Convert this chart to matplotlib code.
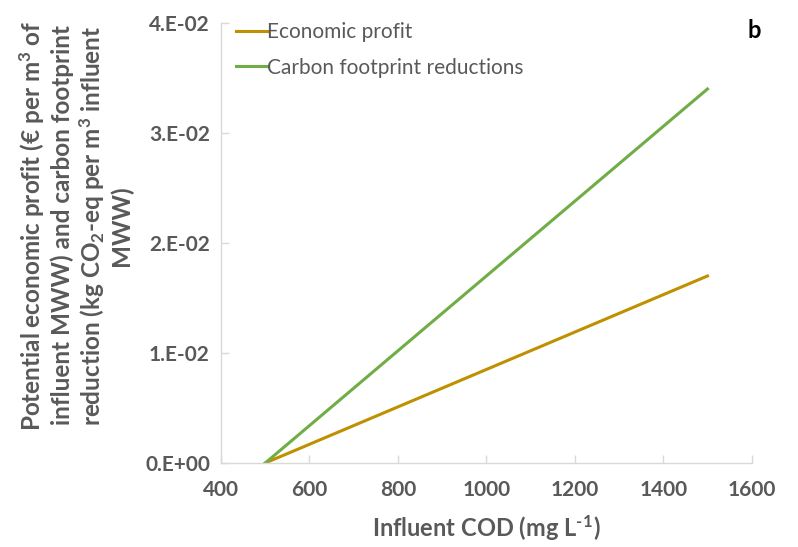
import matplotlib
matplotlib.use("Agg")
import matplotlib.pyplot as plt

plt.rcParams['font.family'] = ['Lato', 'DejaVu Sans']
plt.rcParams['mathtext.default'] = 'regular'

# Influent COD (mg/L) and the two linear responses
cod = [500, 1500]
economic_profit = [0.0, 0.017]
carbon_reduction = [0.0, 0.034]

x_ticks = [400, 600, 800, 1000, 1200, 1400, 1600]
y_ticks = [0.0, 0.01, 0.02, 0.03, 0.04]
y_tick_labels = ["0.E+00", "1.E-02", "2.E-02", "3.E-02", "4.E-02"]

grey = "#595959"
axis_col = "#d9d9d9"

fig = plt.figure(figsize=(7.98, 5.47), dpi=100)
ax = fig.add_axes([0.277, 0.1536, 0.665, 0.8044])

ax.plot(cod, economic_profit, color="#BF9000", lw=2.2, label="Economic profit")
ax.plot(cod, carbon_reduction, color="#70AD47", lw=2.2, label="Carbon footprint reductions")

ax.set_xlim(400, 1600)
ax.set_ylim(0, 0.04)
ax.set_xticks(x_ticks)
ax.set_yticks(y_ticks)
ax.set_yticklabels(y_tick_labels)

for s in ["top", "right"]:
    ax.spines[s].set_visible(False)
for s in ["left", "bottom"]:
    ax.spines[s].set_color(axis_col)
    ax.spines[s].set_linewidth(1.0)

ax.tick_params(axis="both", direction="in", length=6, color=axis_col,
               labelcolor=grey, labelsize=15, width=1.0)
ax.tick_params(axis="x", pad=12)
ax.tick_params(axis="y", pad=8)
for lbl in ax.get_xticklabels() + ax.get_yticklabels():
    lbl.set_fontweight("bold")

ax.set_xlabel("Influent COD (mg L$^{\u2010}$$^{1}$)", fontsize=17, fontweight="bold",
              color=grey, labelpad=10)
ax.set_ylabel("Potential economic profit (€ per m$^{3}$ of\n"
              "influent MWW) and carbon footprint\n"
              "reduction (kg CO$_{2}$-eq per m$^{3}$ influent\n"
              "MWW)", fontsize=17.5, fontweight="bold", color=grey,
              linespacing=1.15)
ax.yaxis.set_label_coords(-0.165, 0.54)

leg = ax.legend(loc="upper left", bbox_to_anchor=(0.0, 1.035), frameon=False,
                fontsize=15, handlelength=1.5, handletextpad=0.0,
                labelspacing=0.75, borderaxespad=0.3)
for t in leg.get_texts():
    t.set_color(grey)

fig.text(0.937, 0.945, "b", fontsize=17, fontweight="bold", color="black",
         ha="left", va="center")

fig.savefig("out.png", dpi=100)
